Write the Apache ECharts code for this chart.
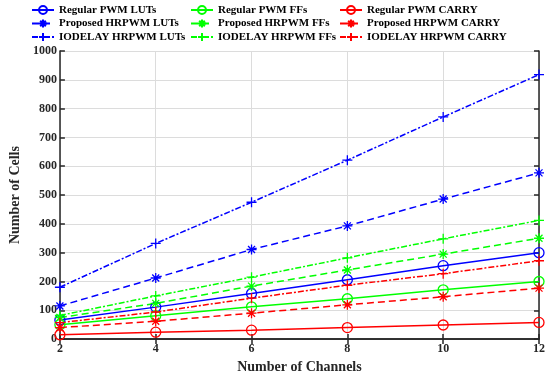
<!DOCTYPE html>
<html>
<head>
<meta charset="utf-8">
<script src="https://cdn.jsdelivr.net/npm/echarts@6/dist/echarts.min.js"></script>
<style>
html,body{margin:0;padding:0;background:#fff;}
#chart{width:550px;height:379px;}
</style>
</head>
<body>
<div id="chart"></div>
<script>
// ---- data ----
const channels = [2, 4, 6, 8, 10, 12];
const regularLUTs   = [66, 111, 158, 206, 255, 300];
const proposedLUTs  = [115, 212, 311, 393, 486, 577];
const iodelayLUTs   = [180, 332, 475, 621, 771, 918];
const regularFFs    = [50, 81, 112, 140, 171, 200];
const proposedFFs   = [75, 124, 184, 240, 295, 350];
const iodelayFFs    = [82, 150, 215, 282, 348, 412];
const regularCARRY  = [15, 24, 31, 40, 49, 58];
const proposedCARRY = [40, 62, 90, 119, 147, 177];
const iodelayCARRY  = [57, 94, 142, 187, 227, 272];
const seriesNames = [
  'Regular PWM LUTs', 'Proposed HRPWM LUTs', 'IODELAY HRPWM LUTs',
  'Regular PWM FFs', 'Proposed HRPWM FFs', 'IODELAY HRPWM FFs',
  'Regular PWM CARRY', 'Proposed HRPWM CARRY', 'IODELAY HRPWM CARRY'
];
const seriesValues = [regularLUTs, proposedLUTs, iodelayLUTs, regularFFs, proposedFFs, iodelayFFs, regularCARRY, proposedCARRY, iodelayCARRY];

const colors = ['#0000ff', '#00ff00', '#ff0000'];
const STAR = 'path://M5,0L5,10M0,5L10,5M1.5,1.5L8.5,8.5M8.5,1.5L1.5,8.5';
const PLUS = 'path://M5,0L5,10M0,5L10,5';
const kinds = [
  {type: 'solid', symbol: 'circle', size: 10},
  {type: [7, 4], symbol: STAR, size: 10},
  {type: [6, 2, 2, 2], symbol: PLUS, size: 10}
];
const font = '"Liberation Serif", "Times New Roman", serif';

const series = seriesNames.map((name, i) => {
  const c = colors[Math.floor(i / 3)];
  const k = kinds[i % 3];
  return {
    name: name,
    type: 'line',
    data: channels.map((x, j) => [x, seriesValues[i][j]]),
    symbol: k.symbol,
    symbolSize: k.size,
    showAllSymbol: true,
    lineStyle: {color: c, width: 1.5, type: k.type},
    itemStyle: {color: 'rgba(0,0,0,0)', borderColor: c, borderWidth: 1.3},
    emphasis: {disabled: true},
    animation: false,
    z: 3
  };
});

const legendCommon = {
  orient: 'vertical',
  top: 4,
  padding: 0,
  itemWidth: 22,
  itemHeight: 10,
  itemGap: 1.5,
  textStyle: {fontFamily: font, fontWeight: 'bold', fontSize: 11, color: '#000', lineHeight: 12},
  selectedMode: false
};
const legends = [31, 190, 339].map((left, ci) => Object.assign({}, legendCommon, {
  left: left,
  data: seriesNames.slice(ci * 3, ci * 3 + 3)
}));

const axisLineStyle = {color: '#262626', width: 1.5};
const labelStyle = {fontFamily: font, fontWeight: 'bold', fontSize: 12, color: '#262626'};

const option = {
  backgroundColor: '#fff',
  animation: false,
  legend: legends,
  grid: {left: 44, right: 11, top: 51, bottom: 33, containLabel: false},
  xAxis: [
    {
      type: 'value', min: 2, max: 12, interval: 2, position: 'bottom',
      name: 'Number of Channels', nameLocation: 'middle', nameGap: 16,
      nameTextStyle: {fontFamily: font, fontWeight: 'bold', fontSize: 14, color: '#262626'},
      axisLine: {show: true, lineStyle: axisLineStyle},
      axisTick: {show: true, inside: true, length: 5, lineStyle: axisLineStyle},
      axisLabel: Object.assign({margin: 4}, labelStyle),
      splitLine: {show: true, lineStyle: {color: '#dcdcdc', width: 1}}
    },
    {
      type: 'value', min: 2, max: 12, interval: 2, position: 'top',
      axisLine: {show: true, lineStyle: axisLineStyle},
      axisTick: {show: true, inside: true, length: 5, lineStyle: axisLineStyle},
      axisLabel: {show: false},
      splitLine: {show: false}
    }
  ],
  yAxis: [
    {
      type: 'value', min: 0, max: 1000, interval: 100, position: 'left',
      name: 'Number of Cells', nameLocation: 'middle', nameGap: 30, nameRotate: 90,
      nameTextStyle: {fontFamily: font, fontWeight: 'bold', fontSize: 14, color: '#262626'},
      axisLine: {show: true, lineStyle: axisLineStyle},
      axisTick: {show: true, inside: true, length: 5, lineStyle: axisLineStyle},
      axisLabel: Object.assign({margin: 3, formatter: v => String(v)}, labelStyle),
      splitLine: {show: true, lineStyle: {color: '#dcdcdc', width: 1}}
    },
    {
      type: 'value', min: 0, max: 1000, interval: 100, position: 'right',
      axisLine: {show: true, lineStyle: axisLineStyle},
      axisTick: {show: true, inside: true, length: 5, lineStyle: axisLineStyle},
      axisLabel: {show: false},
      splitLine: {show: false}
    }
  ],
  series: series
};

const chart = echarts.init(document.getElementById('chart'), null, {renderer: 'canvas'});
chart.setOption(option);
</script>
</body>
</html>
